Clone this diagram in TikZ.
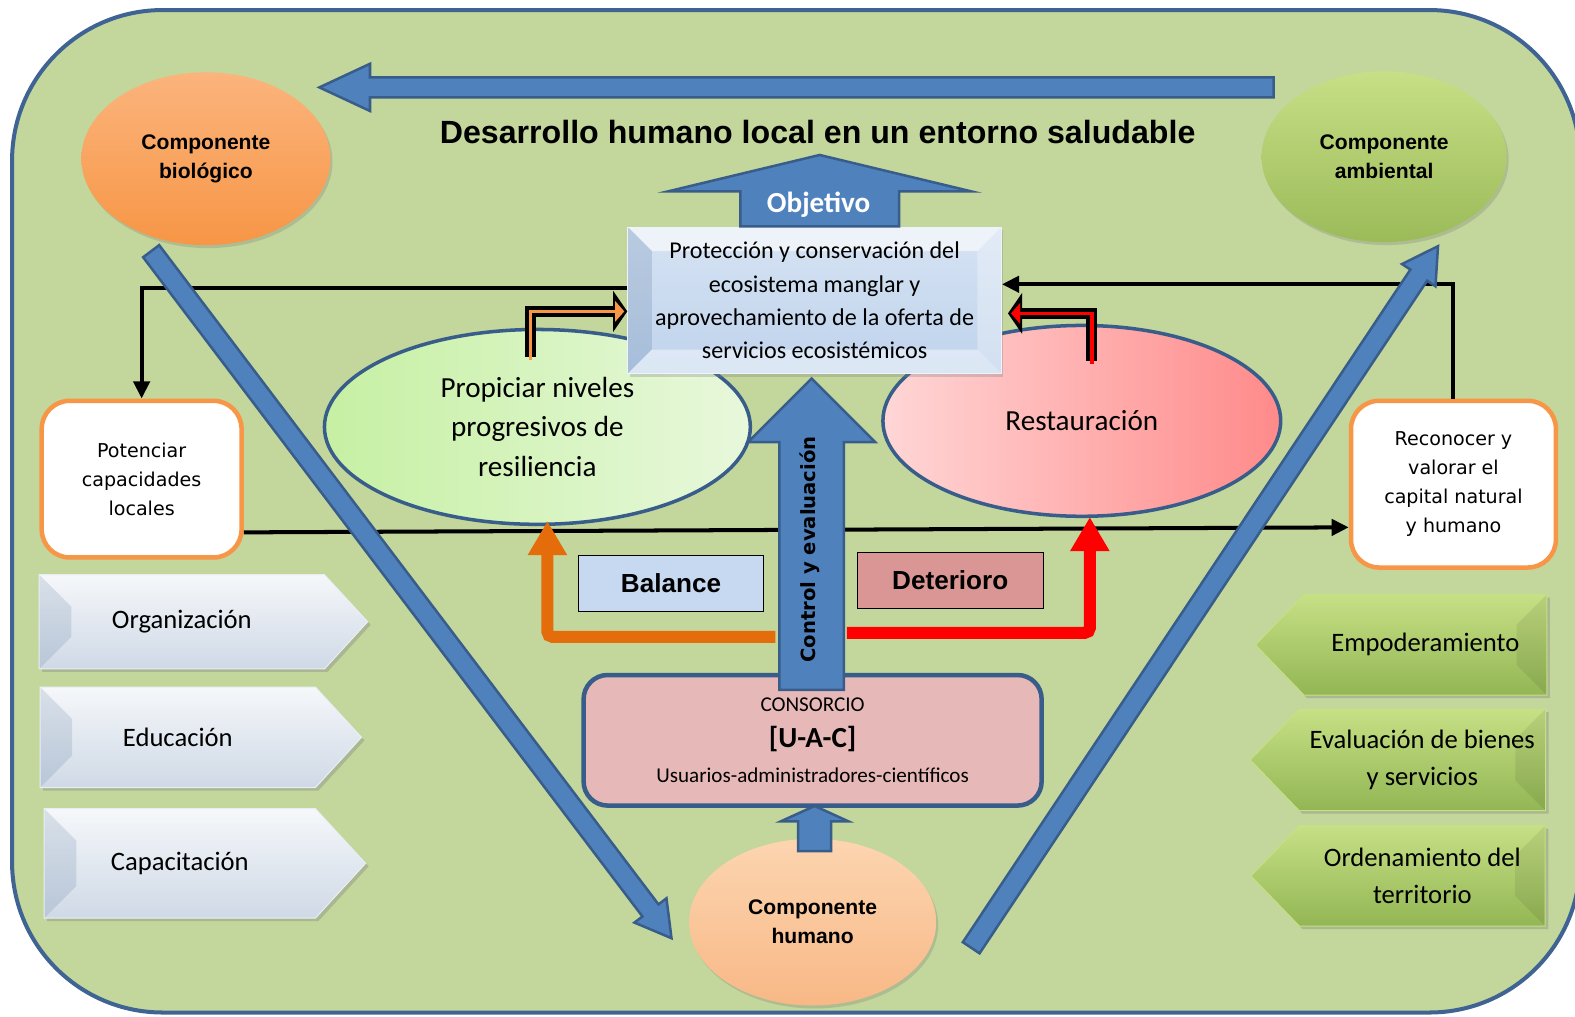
\documentclass[tikz,border=0pt]{standalone}
\usepackage{fontspec}
\setmainfont{Carlito}
\newfontfamily\arialfont{Liberation Sans}
\newfontfamily\verdanafont{DejaVu Sans}
\usepackage{xcolor}
\usepackage{tikz}
\usetikzlibrary{shapes,shapes.geometric,shapes.symbols,shapes.arrows,arrows.meta,positioning,calc,shadows}

\definecolor{bggreen}{HTML}{C3D69B}
\definecolor{frameblue}{HTML}{3F6393}
\definecolor{arrowblue}{HTML}{4F81BD}
\definecolor{arrowdark}{HTML}{385D8A}
\definecolor{bioorange}{HTML}{F79646}
\definecolor{biolight}{HTML}{FBB47C}
\definecolor{ambgreen}{HTML}{9BBB59}
\definecolor{amblight}{HTML}{C7DF86}
\definecolor{humpeach}{HTML}{F8B886}
\definecolor{humlight}{HTML}{FCD5B0}
\definecolor{resgreen}{HTML}{C6F0A3}
\definecolor{reslight}{HTML}{E8F8DC}
\definecolor{restpink}{HTML}{FFD6D6}
\definecolor{restred}{HTML}{FF8A8A}
\definecolor{goalblue}{HTML}{BFD3EC}
\definecolor{goallight}{HTML}{D6E3F3}
\definecolor{baltag}{HTML}{C6D9F1}
\definecolor{dettag}{HTML}{D99694}
\definecolor{conspink}{HTML}{E6B9B8}
\definecolor{boxorange}{HTML}{F79646}
\definecolor{balorange}{HTML}{E46C0A}
\definecolor{chevgrey}{HTML}{CFD9E6}
\definecolor{chevgreen}{HTML}{93B654}
\definecolor{chevlight}{HTML}{C6E085}

\begin{document}
\begin{tikzpicture}[
    x=1pt, y=-1pt,
    frame/.style={draw=frameblue, line width=4pt, fill=bggreen, rounded corners=150pt},
    comp/.style={ellipse, inner sep=0pt, align=center, font=\arialfont\bfseries\fontsize{21}{29}\selectfont, drop shadow={opacity=0.3, shadow xshift=2pt, shadow yshift=-3pt}},
    aim/.style={ellipse, inner sep=0pt, align=center, draw=arrowdark, line width=3.5pt, font=\fontsize{29}{39.5}\selectfont},
    bevelled/.style={path picture={
        \coordinate (pnw) at (path picture bounding box.north west);
        \coordinate (pne) at (path picture bounding box.north east);
        \coordinate (psw) at (path picture bounding box.south west);
        \coordinate (pse) at (path picture bounding box.south east);
        \fill[white, opacity=0.6] (pnw) -- (pne) -- ([xshift=-#1,yshift=-#1]pne) -- ([xshift=#1,yshift=-#1]pnw) -- cycle;
        \fill[arrowdark, opacity=0.18] (pnw) -- ([xshift=#1,yshift=-#1]pnw) -- ([xshift=#1,yshift=#1]psw) -- (psw) -- cycle;
        \fill[white, opacity=0.3] (pne) -- ([xshift=-#1,yshift=-#1]pne) -- ([xshift=-#1,yshift=#1]pse) -- (pse) -- cycle;
        \fill[white, opacity=0.45] (psw) -- ([xshift=#1,yshift=#1]psw) -- ([xshift=-#1,yshift=#1]pse) -- (pse) -- cycle;
    }},
    leftfacet/.style={path picture={
        \fill[arrowdark, opacity=0.15] (path picture bounding box.north west) -- ([xshift=#1,yshift=-#1]path picture bounding box.north west) -- ([xshift=#1,yshift=#1]path picture bounding box.south west) -- (path picture bounding box.south west) -- cycle;
    }},
    rightfacet/.style={path picture={
        \fill[black, opacity=0.07] (path picture bounding box.north east) -- ([xshift=-#1,yshift=-#1]path picture bounding box.north east) -- ([xshift=-#1,yshift=#1]path picture bounding box.south east) -- (path picture bounding box.south east) -- cycle;
    }},
    goalbox/.style={rectangle, align=center, draw=white!75!goalblue, line width=1pt, top color=goallight, bottom color=goalblue, bevelled=24pt, font=\fontsize{24}{33}\selectfont, drop shadow={opacity=0.3, shadow xshift=2pt, shadow yshift=-3pt}},
    action/.style={rectangle, rounded corners=28pt, draw=boxorange, line width=4.5pt, fill=white, align=center, font=\verdanafont\fontsize{19}{29}\selectfont},
    tag/.style={rectangle, draw=black, line width=1pt, minimum width=185pt, minimum height=55pt, font=\arialfont\bfseries\fontsize{26}{30}\selectfont},
    consbox/.style={rectangle, rounded corners=24pt, draw=arrowdark, line width=4.5pt, fill=conspink, align=center, minimum width=456pt, minimum height=130pt, font=\fontsize{21}{35}\selectfont},
    blockarrow/.style={single arrow, fill=arrowblue, draw=arrowdark, line width=2.5pt, inner xsep=0pt, single arrow head indent=0pt},
    link/.style={line width=4pt, -{Triangle[width=16pt,length=17pt]}},
    bendout/.style={line width=11pt, black, -{Triangle[width=40pt,length=14pt]}},
    lpath/.style={line width=12pt, rounded corners=5pt, -{Triangle[width=37pt,length=34pt]}},
    chevleft/.style={signal, signal to=east, signal pointer angle=95, inner sep=0pt, draw=white!55!chevgrey, line width=1pt, top color=white!80!chevgrey, bottom color=chevgrey, leftfacet=32pt, font=\fontsize{26.5}{37}\selectfont, align=center, drop shadow={opacity=0.35, shadow xshift=3pt, shadow yshift=-3pt}},
    chevright/.style={signal, signal to=west, signal pointer angle=92, inner sep=0pt, draw=chevlight, line width=1pt, top color=chevlight, bottom color=chevgreen, rightfacet=30pt, font=\fontsize{26.5}{37}\selectfont, align=center, drop shadow={opacity=0.35, shadow xshift=3pt, shadow yshift=-3pt}}
]
\useasboundingbox (0,0) rectangle (1568,1012);

% Frame
\draw[frame] (12,10) rectangle (1573,1008);

% Title
\node[font=\arialfont\bfseries\fontsize{32}{38}\selectfont] (title) at (814,131) {Desarrollo humano local en un entorno saludable};

% Strategies
\node[aim, minimum width=424pt, minimum height=194pt, left color=resgreen, right color=reslight] (resil) at (535,425) {Propiciar niveles\\progresivos de\\resiliencia};
\node[aim, minimum width=396pt, minimum height=190pt, left color=restpink, right color=restred] (rest) at (1077,419) {Restauración};

% Goal
\node[goalbox, minimum width=372pt, minimum height=146pt] (goal) at (811,299) {Protección y conservación del\\ecosistema manglar y\\aprovechamiento de la oferta de\\servicios ecosistémicos};

% Actions
\node[action, minimum width=199pt, minimum height=156pt] (potenciar) at (141,477) {Potenciar\\capacidades\\locales};
\node[action, minimum width=204pt, minimum height=166pt] (reconocer) at (1447,482) {Reconocer y\\valorar el\\capital natural\\y humano};

% Links
\draw[link] ([yshift=12pt]goal.west) -| (potenciar.north);
\draw[link] ([yshift=-53pt]potenciar.east) -- ([yshift=-43pt]reconocer.west);
\draw[link] (reconocer.north) |- ([yshift=16pt]goal.east);

% Components
\node[comp, minimum width=248pt, minimum height=172pt, top color=biolight, bottom color=bioorange] (bio) at (205,158) {Componente\\biológico};
\node[comp, minimum width=244pt, minimum height=170pt, top color=amblight, bottom color=ambgreen] (amb) at (1378,156) {Componente\\ambiental};
\node[comp, minimum width=246pt, minimum height=166pt, top color=humlight, bottom color=humpeach] (hum) at (809,918) {Componente\\humano};

% Cycle
\node[blockarrow, rotate=180, anchor=tip, minimum height=950pt, inner ysep=8.75pt, single arrow head extend=13.5pt, single arrow tip angle=50] (cycletop) at (315,87) {};
\node[blockarrow, rotate=-52.86, anchor=tip, minimum height=858pt, inner ysep=8.75pt, single arrow head extend=10pt, single arrow tip angle=60] (cycleleft) at (670,936) {};
\node[blockarrow, rotate=56.36, anchor=tip, minimum height=839pt, inner ysep=8.75pt, single arrow head extend=10pt, single arrow tip angle=60] (cycleright) at (1433,243) {};

% Objective
\node[blockarrow, rotate=90, anchor=tip, minimum height=71pt, inner ysep=77.75pt, single arrow head extend=72pt, single arrow tip angle=153] (objarrow) at (816,153) {};
\node[text=white, font=\bfseries\fontsize{29}{33}\selectfont] (objtext) at (815,204) {Objetivo};

% Bent arrows into the goal
\draw[bendout] ([xshift=-7pt,yshift=-29pt]resil.north) |- ([yshift=-11pt]goal.west);
\draw[line width=3.5pt, boxorange, shorten >=3pt, -{Triangle[width=20pt,length=9pt]}] ([xshift=-7pt,yshift=-32pt]resil.north) |- ([yshift=-11pt]goal.west);
\draw[bendout] ([xshift=10pt,yshift=-37pt]rest.north) |- ([xshift=6pt,yshift=-13pt]goal.east);
\draw[line width=3.5pt, red, shorten >=3pt, -{Triangle[width=20pt,length=9pt]}] ([xshift=10pt,yshift=-40pt]rest.north) |- ([xshift=6pt,yshift=-13pt]goal.east);

% Consortium
\node[consbox] (cons) at (809,737) {CONSORCIO\\{\bfseries\fontsize{29}{35}\selectfont [U-A-C]}\\Usuarios-administradores-científicos};
\node[blockarrow, rotate=90, anchor=tip, minimum height=45pt, inner ysep=15.25pt, single arrow head extend=17pt, single arrow tip angle=131] (humarrow) at (811,801) {};

% Control
\node[blockarrow, rotate=90, anchor=tip, minimum height=310pt, inner ysep=30.75pt, single arrow head extend=31.5pt, single arrow tip angle=90] (ctrl) at (808,375) {};
\node[rotate=90, font=\verdanafont\bfseries\fontsize{19.5}{24}\selectfont] (ctrltext) at (806,547) {Control y evaluación};

% Balance and deterioration
\coordinate (balfrom) at (772,634);
\coordinate (detfrom) at (843,630);
\draw[lpath, balorange] (balfrom) -| ([xshift=10pt,yshift=5pt]resil.south);
\draw[lpath, red] (detfrom) -| ([xshift=8pt,yshift=1pt]rest.south);
\node[tag, fill=baltag] (bal) at (668,581) {Balance};
\node[tag, fill=dettag] (det) at (946,578) {Deterioro};

% Left chevrons
\node[chevleft, minimum width=327pt, minimum height=94pt] (org) at (181,619) {Organización};
\node[chevleft, minimum width=320pt, minimum height=100pt, below=17pt of org.south, anchor=north, xshift=-4pt] (edu) {Educación};
\node[chevleft, minimum width=320pt, minimum height=109pt, below=20pt of edu.south, anchor=north, xshift=2pt] (cap) {Capacitación};

% Right chevrons
\node[chevright, minimum width=290pt, minimum height=100pt] (emp) at (1419,642) {Empoderamiento};
\node[chevright, minimum width=294pt, minimum height=101pt, below=13pt of emp.south, anchor=north, xshift=-3pt] (evalb) {Evaluación de bienes\\y servicios};
\node[chevright, minimum width=293pt, minimum height=100pt, below=14pt of evalb.south, anchor=north] (ord) {Ordenamiento del\\territorio};

\end{tikzpicture}
\end{document}
